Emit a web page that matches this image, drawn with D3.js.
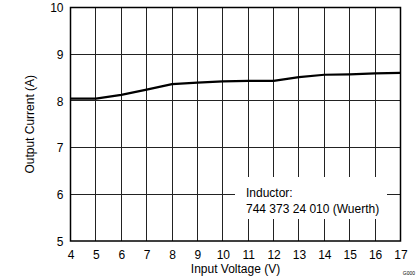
<!DOCTYPE html>
<html>
<head>
<meta charset="utf-8">
<script src="https://cdn.jsdelivr.net/npm/d3@7"></script>
<style>
  html, body { margin: 0; padding: 0; background: #fff; }
  svg { display: block; font-family: Arial, "Liberation Sans", sans-serif; }
</style>
</head>
<body>
<svg id="chart" width="419" height="279"></svg>
<script>
const inputVoltage = [4, 5, 6, 7, 8, 9, 10, 11, 12, 13, 14, 15, 16, 17];
const outputCurrent = [8.05, 8.05, 8.13, 8.24, 8.36, 8.39, 8.42, 8.43, 8.43, 8.51, 8.56, 8.57, 8.59, 8.60];
const xTicks = [4, 5, 6, 7, 8, 9, 10, 11, 12, 13, 14, 15, 16, 17];
const yTicks = [5, 6, 7, 8, 9, 10];
const annotationLines = ["Inductor:", "744 373 24 010 (Wuerth)"];

const svg = d3.select("#chart");
const m = { left: 70.5, right: 400.5, top: 7.5, bottom: 241 };

const x = d3.scaleLinear().domain([4, 17]).range([m.left, m.right]);
const y = d3.scaleLinear().domain([5, 10]).range([m.bottom, m.top]);

// gridlines
const grid = svg.append("g").attr("stroke", "#222").attr("stroke-width", 1).attr("shape-rendering", "crispEdges");
grid.selectAll("line.v").data(xTicks.slice(1, -1)).enter().append("line")
  .attr("x1", d => x(d)).attr("x2", d => x(d)).attr("y1", m.top).attr("y2", m.bottom);
grid.selectAll("line.h").data(yTicks.slice(1, -1)).enter().append("line")
  .attr("y1", d => y(d)).attr("y2", d => y(d)).attr("x1", m.left).attr("x2", m.right);

// annotation white box
svg.append("rect")
  .attr("x", 235).attr("y", 177).attr("width", 152).attr("height", 42)
  .attr("fill", "#fff");

// data line
const line = d3.line().x((d, i) => x(inputVoltage[i])).y(d => y(d));
svg.append("path").datum(outputCurrent)
  .attr("d", line)
  .attr("fill", "none").attr("stroke", "#000").attr("stroke-width", 2.2)
  .attr("stroke-linejoin", "round");

// border
svg.append("rect")
  .attr("x", m.left).attr("y", m.top).attr("width", m.right - m.left).attr("height", m.bottom - m.top)
  .attr("fill", "none").attr("stroke", "#000").attr("stroke-width", 1.5);

// axes labels via d3 axes
const xAxis = d3.axisBottom(x).tickValues(xTicks).tickSize(0).tickPadding(0).tickFormat(d3.format("d"));
const gx = svg.append("g").attr("transform", `translate(0,${m.bottom})`).call(xAxis);
gx.select(".domain").remove();
gx.selectAll("text").attr("dy", null).attr("y", 18).attr("font-size", 12).attr("fill", "#000")
  .attr("font-family", "Arial, 'Liberation Sans', sans-serif");

const yAxis = d3.axisLeft(y).tickValues(yTicks).tickSize(0).tickPadding(0).tickFormat(d3.format("d"));
const gy = svg.append("g").attr("transform", `translate(${m.left - 7},0)`).call(yAxis);
gy.select(".domain").remove();
gy.selectAll("text").attr("dy", "0.35em").attr("x", 0).attr("font-size", 12).attr("fill", "#000")
  .attr("font-family", "Arial, 'Liberation Sans', sans-serif");

// axis titles
svg.append("text").attr("x", (m.left + m.right) / 2).attr("y", 273)
  .attr("text-anchor", "middle").attr("font-size", 12).attr("fill", "#000")
  .text("Input Voltage (V)");
svg.append("text")
  .attr("transform", `translate(34,${(m.top + m.bottom) / 2}) rotate(-90)`)
  .attr("text-anchor", "middle").attr("font-size", 12).attr("fill", "#000")
  .text("Output Current (A)");

// annotation text
svg.append("g").selectAll("text").data(annotationLines).enter().append("text")
  .attr("x", 246).attr("y", (d, i) => 197 + i * 16)
  .attr("font-size", 12).attr("fill", "#000")
  .text(d => d);

// small figure id
svg.append("text").attr("x", 415).attr("y", 275).attr("text-anchor", "end")
  .attr("font-size", 5).attr("fill", "#000").text("G000");
</script>
</body>
</html>
